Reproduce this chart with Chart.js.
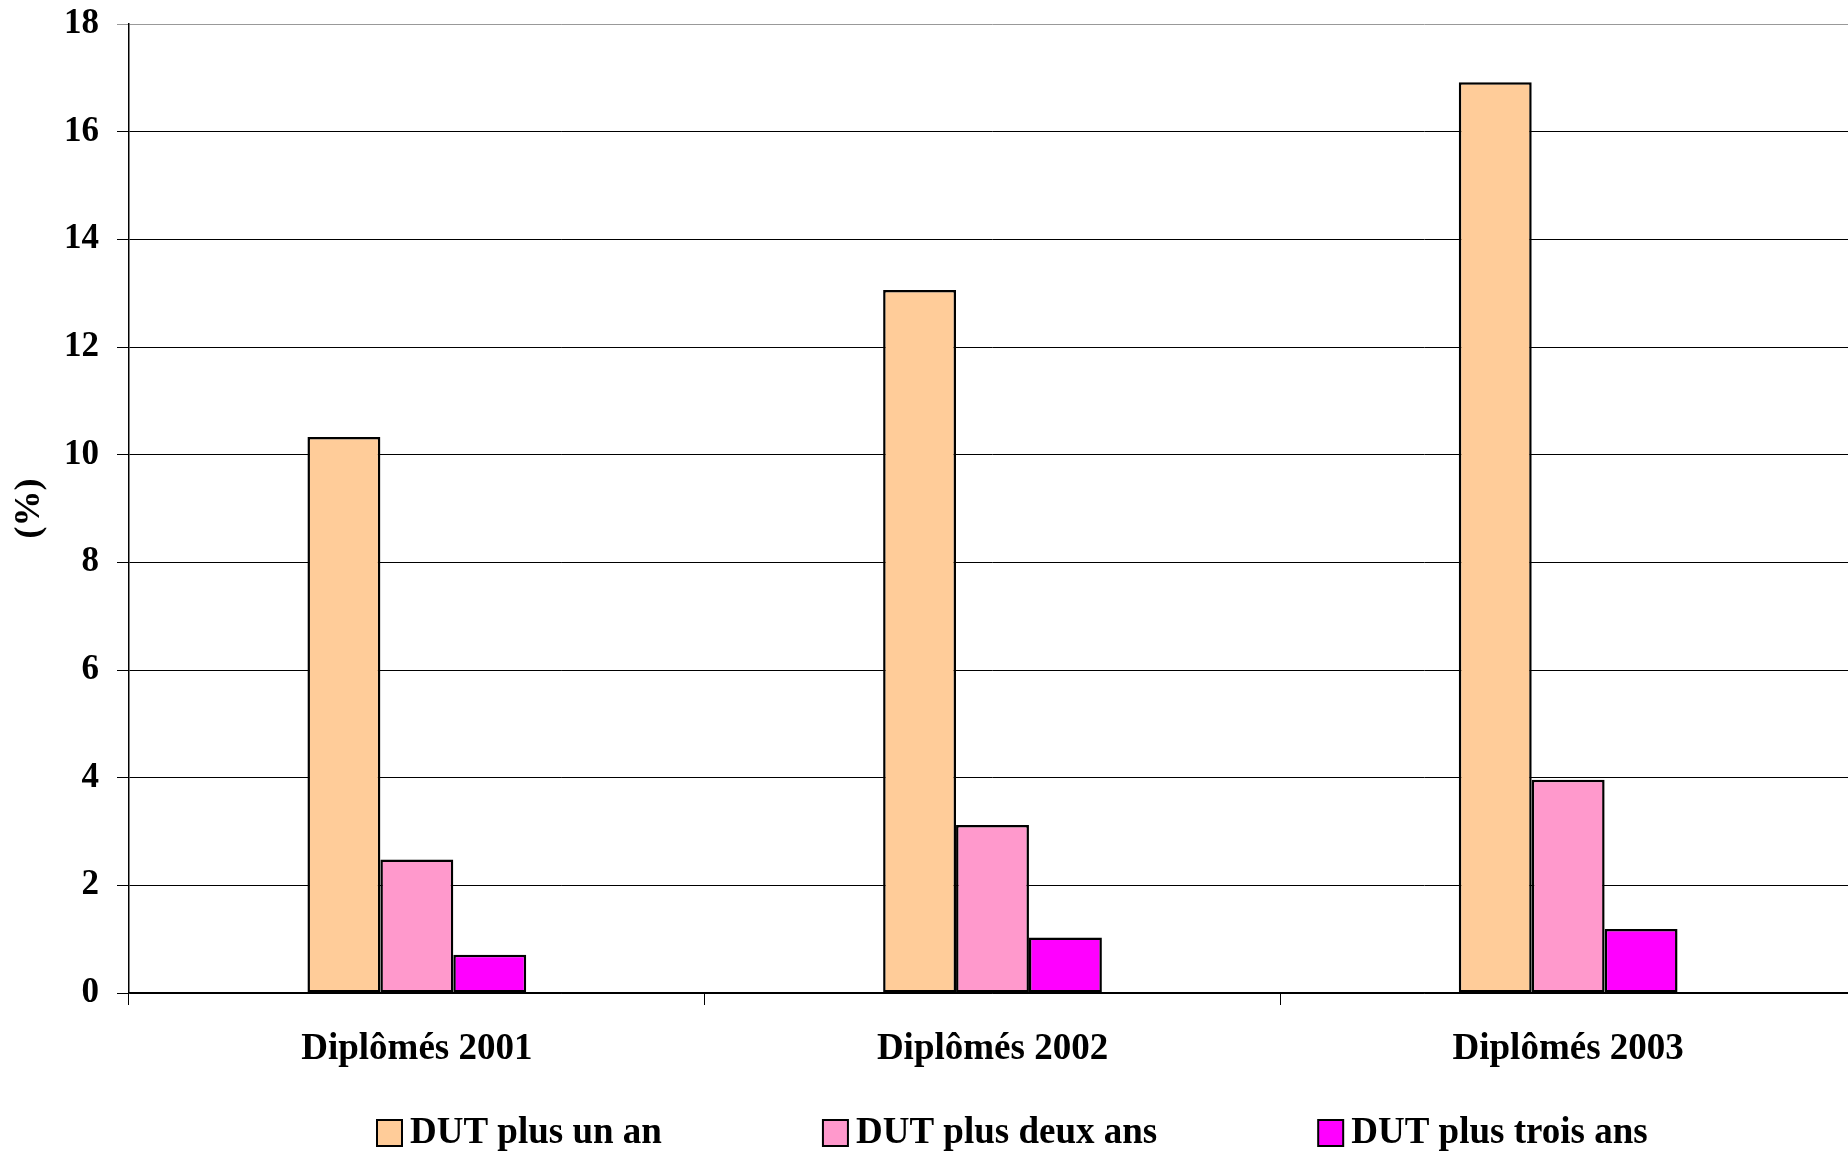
<!DOCTYPE html>
<html>
<head>
<meta charset="utf-8">
<script src="https://cdn.jsdelivr.net/npm/chart.js@4"></script>
<style>
  body { margin: 0; background: #fff; overflow: hidden; }
</style>
</head>
<body>
<canvas id="chart" width="1856" height="1151"></canvas>
<script>
var categories = ['Diplômés 2001', 'Diplômés 2002', 'Diplômés 2003'];
var seriesNames = ['DUT plus un an', 'DUT plus deux ans', 'DUT plus trois ans'];
var plusUnAn = [10.33, 13.06, 16.92];
var plusDeuxAns = [2.48, 3.12, 3.96];
var plusTroisAns = [0.71, 1.03, 1.19];
var colors = ['#FFCC99', '#FF99CC', '#FF00FF'];

var FONT = '"Liberation Serif", "Times New Roman", serif';

// legend drawn by hand so the wide horizontal spacing doesn't blow up the height
var bottomLegend = {
    id: 'bottomLegend',
    afterDraw: function(chart) {
        var ctx = chart.ctx;
        ctx.save();
        ctx.font = 'bold 37px ' + FONT;
        ctx.textBaseline = 'middle';
        var x = 377, y = 1133;
        chart.data.datasets.forEach(function(ds) {
            ctx.fillStyle = ds.backgroundColor;
            ctx.fillRect(x, y - 13, 25, 26);
            ctx.lineWidth = 2;
            ctx.strokeStyle = '#000';
            ctx.strokeRect(x, y - 13, 25, 26);
            ctx.fillStyle = '#000';
            ctx.fillText(ds.label, x + 33, y);
            x += 33 + ctx.measureText(ds.label).width + 161;
        });
        ctx.restore();
    }
};

var data = {
    labels: categories,
    datasets: [
        { label: seriesNames[0], data: plusUnAn, backgroundColor: colors[0] },
        { label: seriesNames[1], data: plusDeuxAns, backgroundColor: colors[1] },
        { label: seriesNames[2], data: plusTroisAns, backgroundColor: colors[2] }
    ].map(function(d) {
        d.borderColor = '#000';
        d.borderWidth = 2.5;
        d.borderSkipped = false;
        d.categoryPercentage = 0.38;
        d.barPercentage = 1.0;
        return d;
    })
};

var options = {
    responsive: false,
    animation: false,
    layout: { padding: { top: 24, right: 0, bottom: 76, left: 0 } },
    plugins: {
        legend: { display: false },
        tooltip: { enabled: false }
    },
    scales: {
        x: {
            afterFit: function(s) { s.height = 82; },
            border: { color: '#000', width: 1.5 },
            grid: { drawOnChartArea: false, color: '#000', tickLength: 12 },
            ticks: { color: '#000', padding: 22, font: { family: FONT, size: 37, weight: 'bold' } }
        },
        y: {
            min: 0,
            max: 18,
            afterFit: function(s) { s.width = 129; s.paddingTop = 0; s.paddingBottom = 0; },
            border: { color: '#000', width: 1.5 },
            grid: {
                tickLength: 12,
                color: function(c) { return c.tick && c.tick.value === 18 ? '#999' : '#000'; }
            },
            ticks: { stepSize: 2, color: '#000', padding: 18, font: { family: FONT, size: 35, weight: 'bold' } },
            title: {
                display: true,
                text: '(%)',
                color: '#000',
                padding: { top: 8, bottom: 0 },
                font: { family: FONT, size: 36, weight: 'bold' }
            }
        }
    }
};

var ctx = document.getElementById('chart').getContext('2d');
var chart = new Chart(ctx, {
    type: 'bar',
    data: data,
    options: options,
    plugins: [bottomLegend]
});
</script>
</body>
</html>
